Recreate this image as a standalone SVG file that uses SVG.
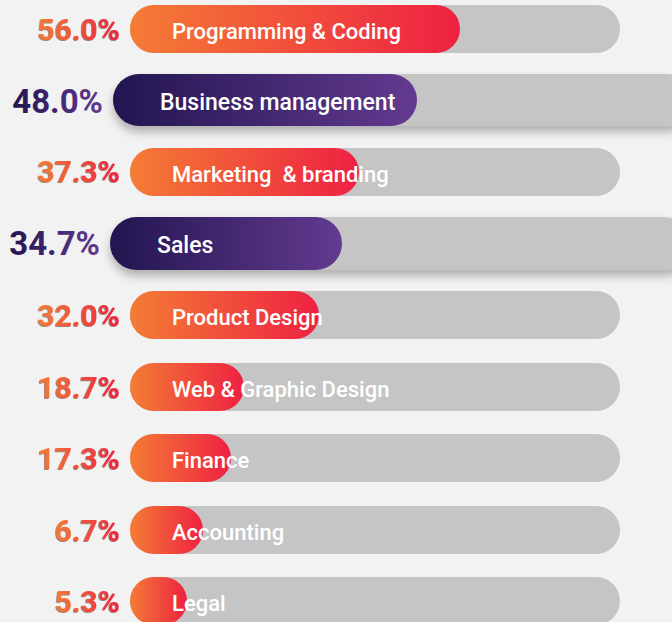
<svg xmlns="http://www.w3.org/2000/svg" width="672" height="622" viewBox="0 0 672 622">
<defs>
<linearGradient id="gO" x1="0" y1="0" x2="1" y2="0"><stop offset="0" stop-color="#f47c35"/><stop offset="1" stop-color="#ee2142"/></linearGradient>
<linearGradient id="gP" x1="0" y1="0" x2="1" y2="0"><stop offset="0" stop-color="#221550"/><stop offset="1" stop-color="#633a90"/></linearGradient>
<filter id="sh" x="-10%" y="-30%" width="120%" height="180%"><feDropShadow dx="0" dy="6" stdDeviation="5" flood-color="#000" flood-opacity="0.28"/></filter>
<filter id="ts" x="-5%" y="-5%" width="110%" height="120%"><feDropShadow dx="-0.8" dy="0.8" stdDeviation="0.2" flood-color="#6a2412" flood-opacity="0.7"/></filter>
</defs>
<style>
.track{fill:#c5c5c5}
.bo{fill:url(#gO)}
.bp{fill:url(#gP)}
.lab{font-family:Roboto,"Liberation Sans",sans-serif;font-weight:500;font-size:22px;fill:#fff}
.labp{font-family:Roboto,"Liberation Sans",sans-serif;font-weight:500;font-size:23px;fill:#fff}
.po{font-family:Roboto,"Liberation Sans",sans-serif;font-weight:700;font-size:30px;fill:url(#gO);text-anchor:end;filter:url(#ts)}
.pp{font-family:Roboto,"Liberation Sans",sans-serif;font-weight:700;font-size:33px;fill:url(#gP);text-anchor:end}
</style>
<rect width="672" height="622" fill="#f2f2f2"/>
<g id="row-programming">
<rect class="track" x="130" y="5" width="490" height="48" rx="24"/>
<rect class="bo" x="130" y="5" width="330" height="48" rx="24"/>
<text class="po" x="120" y="40">56.0%</text>
<text class="lab" x="172" y="38.5">Programming &amp; Coding</text>
</g>
<g id="row-business">
<rect class="track" x="113" y="74" width="580" height="52" rx="26" filter="url(#sh)"/>
<rect class="bp" x="113" y="74" width="304" height="52" rx="26"/>
<text class="pp" x="103" y="112.5">48.0%</text>
<text class="labp" x="160" y="109.5">Business management</text>
</g>
<g id="row-marketing">
<rect class="track" x="130" y="148" width="490" height="48" rx="24"/>
<rect class="bo" x="130" y="148" width="229" height="48" rx="24"/>
<text class="po" x="120" y="182">37.3%</text>
<text class="lab" x="172" y="182" xml:space="preserve">Marketing  &amp; branding</text>
</g>
<g id="row-sales">
<rect class="track" x="110" y="217" width="580" height="53" rx="26.5" filter="url(#sh)"/>
<rect class="bp" x="110" y="217" width="232" height="53" rx="26.5"/>
<text class="pp" x="100" y="255">34.7%</text>
<text class="labp" x="157" y="252.5">Sales</text>
</g>
<g id="row-product">
<rect class="track" x="130" y="291" width="490" height="48" rx="24"/>
<rect class="bo" x="130" y="291" width="189" height="48" rx="24"/>
<text class="po" x="120" y="326">32.0%</text>
<text class="lab" x="172" y="325">Product Design</text>
</g>
<g id="row-web">
<rect class="track" x="130" y="363" width="490" height="48" rx="24"/>
<rect class="bo" x="130" y="363" width="114" height="48" rx="24"/>
<text class="po" x="120" y="398">18.7%</text>
<text class="lab" x="172" y="397">Web &amp; Graphic Design</text>
</g>
<g id="row-finance">
<rect class="track" x="130" y="434" width="490" height="48" rx="24"/>
<rect class="bo" x="130" y="434" width="101" height="48" rx="24"/>
<text class="po" x="120" y="469">17.3%</text>
<text class="lab" x="172" y="468">Finance</text>
</g>
<g id="row-accounting">
<rect class="track" x="130" y="506" width="490" height="48" rx="24"/>
<rect class="bo" x="130" y="506" width="73" height="48" rx="24"/>
<text class="po" x="120" y="541">6.7%</text>
<text class="lab" x="172" y="540">Accounting</text>
</g>
<g id="row-legal">
<rect class="track" x="130" y="577" width="490" height="48" rx="24"/>
<rect class="bo" x="130" y="577" width="57" height="48" rx="24"/>
<text class="po" x="120" y="612">5.3%</text>
<text class="lab" x="172" y="611">Legal</text>
</g>
<g id="connectors"/>
</svg>
